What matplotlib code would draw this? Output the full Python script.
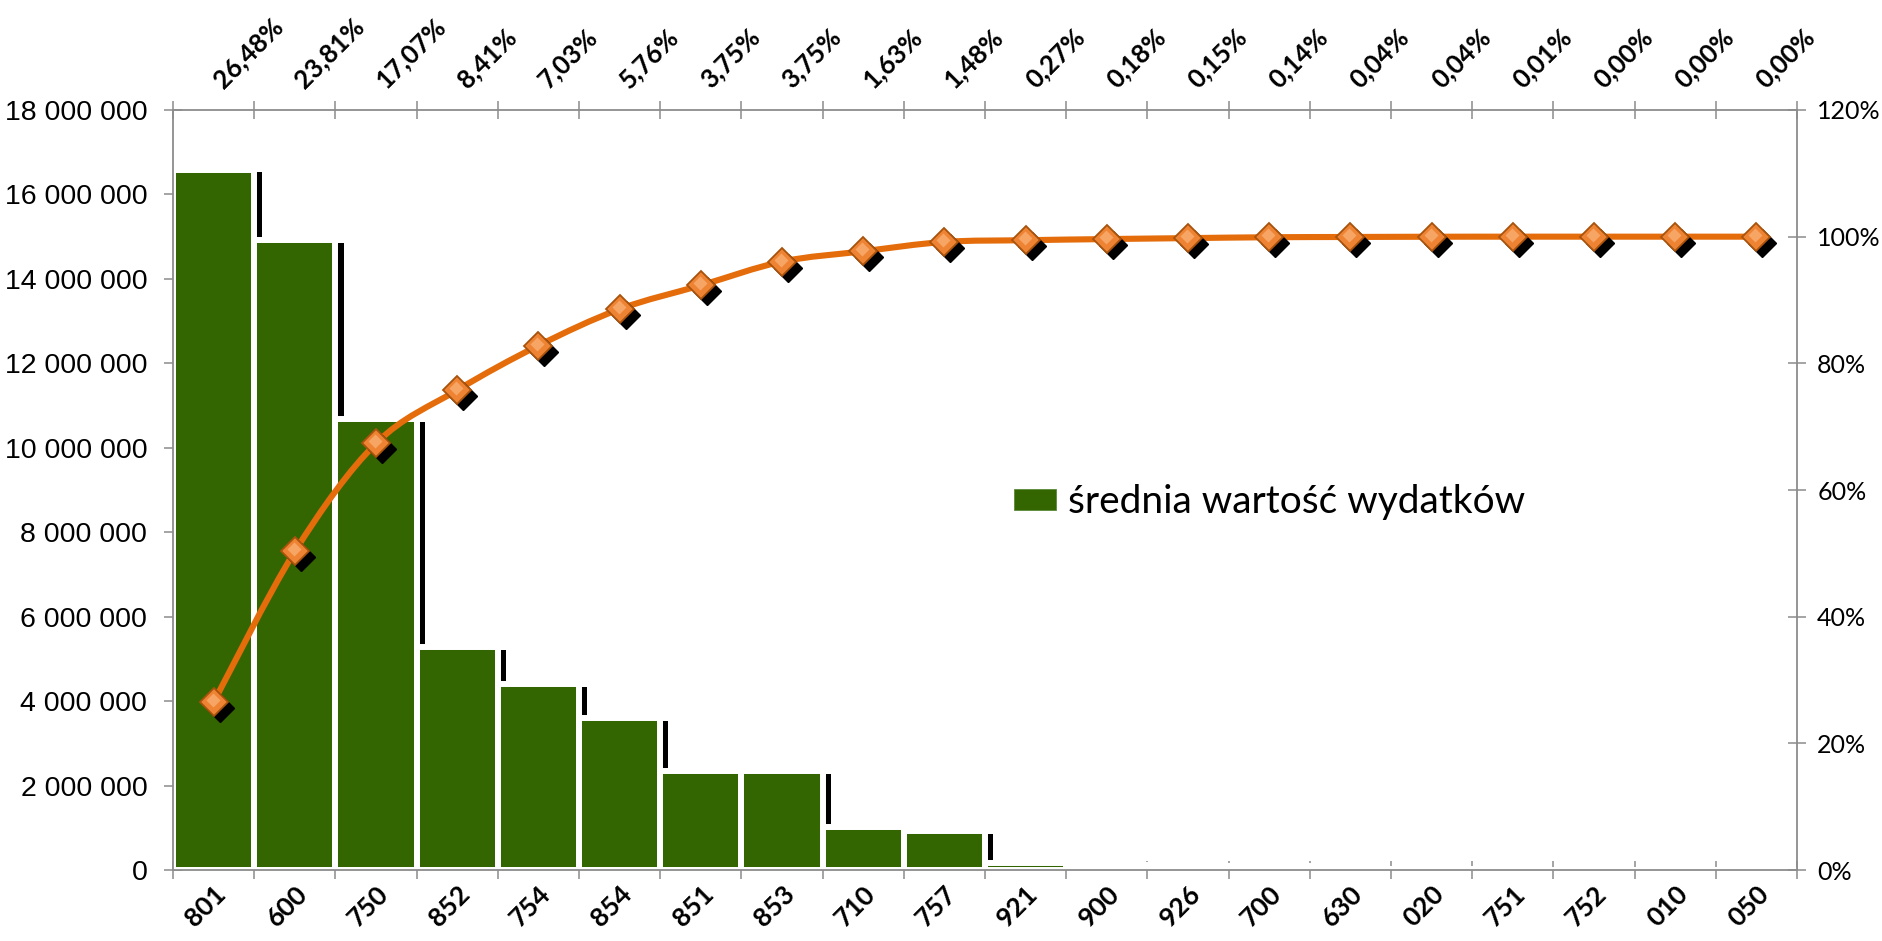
import numpy as np
import matplotlib
matplotlib.use('Agg')
import matplotlib.pyplot as plt
from matplotlib.path import Path
from matplotlib.patches import PathPatch, Patch
from matplotlib.transforms import offset_copy
from matplotlib.ticker import FuncFormatter, PercentFormatter, MultipleLocator

plt.rcParams['font.family'] = ['Lato', 'DejaVu Sans']

# dane
kody = ['801', '600', '750', '852', '754', '854', '851', '853', '710', '757',
        '921', '900', '926', '700', '630', '020', '751', '752', '010', '050']
wartosci = [16590000, 14910000, 10690000, 5270000, 4400000, 3610000, 2350000,
            2350000, 1020000, 930000, 170000, 110000, 90000, 90000, 30000,
            30000, 10000, 0, 0, 0]
udzialy = [26.48, 23.81, 17.07, 8.41, 7.03, 5.76, 3.75, 3.75, 1.63, 1.48,
           0.27, 0.18, 0.15, 0.14, 0.04, 0.04, 0.01, 0.00, 0.00, 0.00]
skumulowane = np.cumsum(udzialy) / 100

ZIELONY = '#336600'
POMARANCZ = '#E46C0A'
SZARY = '#8c8c8c'

fig = plt.figure(figsize=(18.83, 9.41), dpi=100)
ax = fig.add_axes([173 / 1883, 71 / 941, 1624 / 1883, 760 / 941])
x = np.arange(len(kody))

# cień słupków (przesunięta czarna kopia)
cien = np.clip(np.array(wartosci) - 70000, 0, None)
ax.bar(x + 0.1, cien, width=1.0, color='black', zorder=1)
ax.bar(x, wartosci, width=1.0, color=ZIELONY, edgecolor='white',
       linewidth=4.3, zorder=2)

ax.set_xlim(-0.5, len(kody) - 0.5)
ax.set_ylim(0, 18000000)
ax.yaxis.set_major_locator(MultipleLocator(2000000))
ax.yaxis.set_major_formatter(FuncFormatter(lambda v, p: f'{int(v):,}'.replace(',', ' ')))

for s in ['left', 'bottom', 'top']:
    ax.spines[s].set_color(SZARY)
    ax.spines[s].set_linewidth(1.3)
ax.spines['right'].set_visible(False)

ax.set_xticks(x)
ax.set_xticklabels(kody, fontweight='bold', fontsize=19)
ax.set_xticks(np.arange(-0.5, len(kody), 1), minor=True)
ax.tick_params(axis='x', which='major', length=0, pad=8)
ax.tick_params(axis='x', which='minor', direction='inout', length=13,
               width=1.1, color=SZARY, top=True, bottom=True)
ax.tick_params(axis='y', direction='inout', length=13, width=1.1,
               color=SZARY, pad=12)
for lab in ax.get_xticklabels():
    lab.set_rotation(45)
    lab.set_ha('right')
    lab.set_va('top')
    lab.set_rotation_mode('anchor')
for lab in ax.get_yticklabels():
    lab.set_family(['Liberation Sans Narrow', 'Liberation Sans'])
    lab.set_fontsize(20.5)

# udziały nad wykresem
for xi, s in zip(x, udzialy):
    ax.annotate(f'{s:.2f}%'.replace('.', ','), xy=(xi, 1),
                xycoords=('data', 'axes fraction'), xytext=(9, 13),
                textcoords='offset points', rotation=45, ha='left',
                va='bottom', rotation_mode='anchor', fontsize=18.5,
                fontweight='bold')

ax.legend(handles=[Patch(facecolor=ZIELONY, edgecolor='#5a8a3a', lw=0.6,
                         label='średnia wartość wydatków')],
          loc='center left', bbox_to_anchor=(0.518, 0.484), frameon=False,
          fontsize=28, handlelength=1.08, handleheight=0.46,
          handletextpad=0.3, borderpad=0, borderaxespad=0)

# oś prawa - skumulowany udział
ax2 = ax.twinx()
ax2.set_ylim(0, 1.2)
ax2.yaxis.set_major_locator(MultipleLocator(0.2))
ax2.yaxis.set_major_formatter(PercentFormatter(1.0, decimals=0))
for s in ['left', 'bottom', 'top']:
    ax2.spines[s].set_visible(False)
ax2.spines['right'].set_color(SZARY)
ax2.spines['right'].set_linewidth(1.3)
ax2.tick_params(axis='y', direction='inout', length=13, width=1.1,
                color=SZARY, pad=8, labelsize=18)

# wygładzona linia (krzywe Beziera przez punkty)
pts = np.column_stack([x, skumulowane])
verts = [pts[0]]
codes = [Path.MOVETO]
for i in range(len(pts) - 1):
    p0 = pts[i - 1] if i > 0 else pts[i]
    p1, p2 = pts[i], pts[i + 1]
    p3 = pts[i + 2] if i + 2 < len(pts) else pts[i + 1]
    verts += [p1 + (p2 - p0) / 6, p2 - (p3 - p1) / 6, p2]
    codes += [Path.CURVE4] * 3
ax2.add_patch(PathPatch(Path(verts, codes), facecolor='none',
                        edgecolor=POMARANCZ, lw=4.4, zorder=2,
                        capstyle='round', joinstyle='round'))

ax2.plot(x, skumulowane, ls='none', marker='D', ms=14.5, mfc='black',
         mec='black', zorder=3,
         transform=offset_copy(ax2.transData, fig=fig, x=6, y=-6, units='dots'))
ax2.plot(x, skumulowane, ls='none', marker='D', ms=14.5, mfc='#EE8433',
         mec='#A8520C', mew=1.3, zorder=4)
# jaśniejszy środek znacznika
ax2.plot(x, skumulowane, ls='none', marker='D', ms=7, mfc='#F6A565',
         mec='none', zorder=5,
         transform=offset_copy(ax2.transData, fig=fig, x=-1, y=2, units='dots'))

fig.savefig('out.png', dpi=100)
